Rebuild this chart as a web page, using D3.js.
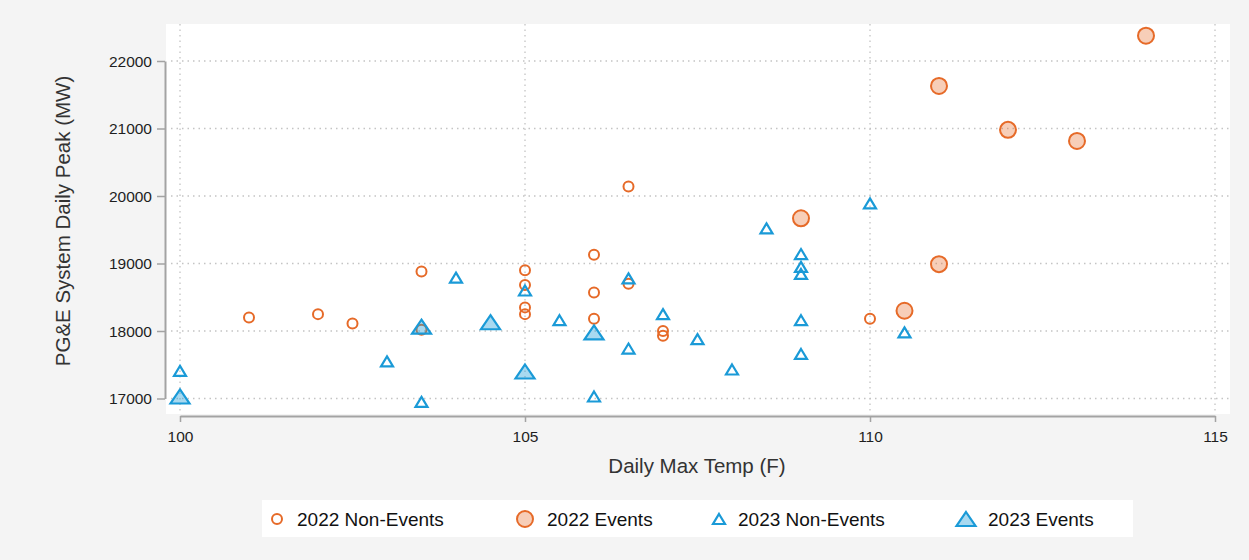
<!DOCTYPE html>
<html>
<head>
<meta charset="utf-8">
<script src="https://cdn.jsdelivr.net/npm/d3@7.9.0/dist/d3.min.js"></script>
<style>
  html, body { margin: 0; padding: 0; background: #f4f4f4; }
  svg { display: block; font-family: 'Liberation Sans', Arial, sans-serif; }
  .axis .domain { stroke: #a3a3a3; stroke-width: 2; }
  .axis .tick line { stroke: #a3a3a3; stroke-width: 1.5; }
  .axis .tick text { fill: #1e1e1e; font-size: 15.5px; }
  .grid line { stroke: #c4c4c4; stroke-width: 1.3; stroke-dasharray: 1.5 4; }
</style>
</head>
<body>
<svg id="chart" width="1249" height="560"></svg>
<script>
// [daily max temp (F), PG&E system daily peak (MW)]
const nonEvents2022 = [
  [101, 18200], [102, 18250], [102.5, 18110], [103.5, 18880], [103.5, 18020],
  [105, 18900], [105, 18680], [105, 18350], [105, 18250],
  [106, 19130], [106, 18570], [106, 18180],
  [106.5, 20140], [106.5, 18700], [107, 18000], [107, 17930], [110, 18180],
];
const events2022 = [
  [109, 19670], [110.5, 18300], [111, 18990], [111, 21630],
  [112, 20980], [113, 20815], [114, 22375],
];
const nonEvents2023 = [
  [100, 17410], [103, 17550], [103.5, 16950], [104, 18790], [105, 18600],
  [105.5, 18160], [106, 17030], [106.5, 18780], [106.5, 17740], [107, 18250],
  [107.5, 17880], [108, 17430], [108.5, 19520], [109, 19140], [109, 18950],
  [109, 18845], [109, 18160], [109, 17660], [110, 19890], [110.5, 17980],
];
const events2023 = [
  [100, 17030], [103.5, 18065], [104.5, 18130], [105, 17400], [106, 17980],
];
const xTicks = [100, 105, 110, 115];
const yTicks = [17000, 18000, 19000, 20000, 21000, 22000];
const legendLabels = ['2022 Non-Events', '2022 Events', '2023 Non-Events', '2023 Events'];

const ORANGE = '#e66a28';
const BLUE = '#1a9ad7';

const svg = d3.select('#chart');

const x = d3.scaleLinear().domain([100, 115]).range([180, 1215]);
const y = d3.scaleLinear().domain([17000, 22000]).range([398.5, 61]);

// plot region
svg.append('rect')
  .attr('x', 166).attr('y', 24)
  .attr('width', 1064).attr('height', 390)
  .attr('fill', '#fff');

// dotted grid
const grid = svg.append('g').attr('class', 'grid');
grid.selectAll('.h').data(yTicks).join('line')
  .attr('x1', 171).attr('x2', 1230)
  .attr('y1', (d) => y(d)).attr('y2', (d) => y(d));
grid.selectAll('.v').data(xTicks).join('line')
  .attr('y1', 24).attr('y2', 414)
  .attr('x1', (d) => x(d)).attr('x2', (d) => x(d));

// axes
svg.append('g')
  .attr('class', 'axis')
  .attr('transform', 'translate(165,0)')
  .call(d3.axisLeft(y).tickValues(yTicks).tickSize(8).tickSizeOuter(0).tickPadding(5).tickFormat(d3.format('d')))
  .call((g) => g.selectAll('.tick text').attr('dy', '0.35em'));

svg.append('g')
  .attr('class', 'axis')
  .attr('transform', 'translate(0,416)')
  .call(d3.axisBottom(x).tickValues(xTicks).tickSize(6).tickSizeOuter(0).tickPadding(9));

// axis titles
svg.append('text')
  .attr('x', 697).attr('y', 473)
  .attr('text-anchor', 'middle')
  .attr('font-size', 20.5)
  .attr('fill', '#333')
  .text('Daily Max Temp (F)');

svg.append('text')
  .attr('transform', 'translate(63,221) rotate(-90)')
  .attr('text-anchor', 'middle')
  .attr('dy', '0.35em')
  .attr('font-size', 20.5)
  .attr('fill', '#333')
  .text('PG&E System Daily Peak (MW)');

function triPath(w, h) {
  return `M0,${-h / 2}L${w / 2},${h / 2}L${-w / 2},${h / 2}Z`;
}

const styles = [
  { data: nonEvents2022, shape: 'circle', r: 5, color: ORANGE, fill: 'none' },
  { data: events2022, shape: 'circle', r: 8, color: ORANGE, fill: ORANGE, op: 0.33 },
  { data: nonEvents2023, shape: 'tri', w: 12, h: 10, color: BLUE, fill: 'none' },
  { data: events2023, shape: 'tri', w: 19, h: 14, color: BLUE, fill: BLUE, op: 0.38 },
];

function drawMarker(sel, s) {
  if (s.shape === 'circle') {
    return sel.append('circle').attr('r', s.r);
  }
  return sel.append('path').attr('d', triPath(s.w, s.h));
}

const marks = svg.append('g');
styles.forEach((s) => {
  const g = marks.append('g');
  s.data.forEach(([t, v]) => {
    drawMarker(g, s)
      .attr('transform', `translate(${x(t)},${y(v)})`)
      .attr('fill', s.fill)
      .attr('fill-opacity', s.op ?? 1)
      .attr('stroke', s.color)
      .attr('stroke-width', s.shape === 'tri' ? 2.2 : 2);
  });
});

// legend
svg.append('rect')
  .attr('x', 262).attr('y', 500)
  .attr('width', 871).attr('height', 37)
  .attr('fill', '#fff');

const legendPos = [
  { mx: 277, tx: 297 },
  { mx: 525, tx: 547 },
  { mx: 719, tx: 738 },
  { mx: 966, tx: 988 },
];
styles.forEach((s, i) => {
  const p = legendPos[i];
  const g = svg.append('g');
  drawMarker(g, s)
    .attr('transform', `translate(${p.mx},519)`)
    .attr('fill', s.fill)
    .attr('fill-opacity', s.op ?? 1)
    .attr('stroke', s.color)
    .attr('stroke-width', s.shape === 'tri' ? 2.2 : 2);
  g.append('text')
    .attr('x', p.tx).attr('y', 519)
    .attr('dy', '0.35em')
    .attr('font-size', 19)
    .attr('fill', '#111')
    .text(legendLabels[i]);
});
</script>
</body>
</html>
